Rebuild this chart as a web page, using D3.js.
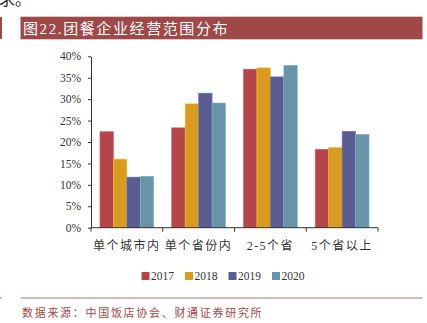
<!DOCTYPE html>
<html>
<head>
<meta charset="utf-8">
<script src="https://cdn.jsdelivr.net/npm/d3@7"></script>
<style>
  html, body { margin: 0; padding: 0; background: #fff; }
  svg { display: block; }
</style>
</head>
<body>
<script>
// Scope of operations of group-catering companies, share by year
const categories = ["单个城市内", "单个省份内", "2-5个省", "5个省以上"];
const years = ["2017", "2018", "2019", "2020"];
const v2017 = [22.4, 23.3, 37.0, 18.3];
const v2018 = [16.0, 28.9, 37.3, 18.7];
const v2019 = [11.8, 31.4, 35.2, 22.5];
const v2020 = [12.0, 29.1, 37.9, 21.8];
const yTicks = [0, 5, 10, 15, 20, 25, 30, 35, 40];
const colors = ["#B4464A", "#D99B22", "#5A5D92", "#6894A8"];
const titleText = "图22.团餐企业经营范围分布";
const sourceText = "数据来源：中国饭店协会、财通证券研究所";

const series = [v2017, v2018, v2019, v2020];
const W = 427, H = 323;
const serif = "'Liberation Serif', 'Noto Sans CJK SC', serif";
const cjk = "'Liberation Serif', 'Noto Sans CJK SC', sans-serif";

const svg = d3.select("body").append("svg").attr("width", W).attr("height", H);

// tail of the preceding paragraph
svg.append("text").attr("x", -1).attr("y", 5)
  .attr("font-family", cjk).attr("font-size", 16).attr("fill", "#222")
  .text("求。");

// title banner
svg.append("rect").attr("x", 0).attr("y", 17).attr("width", 2).attr("height", 22).attr("fill", "#9F4848");
svg.append("rect").attr("x", 20.5).attr("y", 16.7).attr("width", 402).attr("height", 22.6).attr("fill", "#9F4848");
svg.append("text").attr("x", 23).attr("y", 33.5)
  .attr("font-family", cjk).attr("font-size", 15).attr("fill", "#fff")
  .attr("letter-spacing", 1.6)
  .text(titleText);

const margin = { left: 91, right: 378, top: 56.3, bottom: 227.7 };
const x = d3.scaleBand().domain(categories).range([margin.left, margin.right])
  .paddingInner(0.25).paddingOuter(0.125);
const xi = d3.scaleBand().domain(years).range([0, x.bandwidth()]);
const y = d3.scaleLinear().domain([0, 40]).range([margin.bottom, margin.top]);

// bars
const g = svg.append("g");
categories.forEach((c, ci) => {
  years.forEach((yr, si) => {
    const v = series[si][ci];
    g.append("rect")
      .attr("x", x(c) + xi(yr))
      .attr("y", y(v))
      .attr("width", xi.bandwidth())
      .attr("height", y(0) - y(v))
      .attr("fill", colors[si])
      .attr("stroke", d3.color(colors[si]).brighter(0.6))
      .attr("stroke-width", 0.6);
  });
});

// y axis
const yAxis = svg.append("g").attr("transform", `translate(${margin.left},0)`)
  .call(d3.axisLeft(y).tickValues(yTicks).tickFormat(d => d + "%").tickSize(3).tickSizeOuter(0));
yAxis.select(".domain").attr("stroke", "#333");
yAxis.selectAll(".tick line").attr("stroke", "#333");
yAxis.selectAll(".tick text").attr("font-family", serif).attr("font-size", 11.5)
  .attr("fill", "#333").attr("x", -10);

// x axis with ticks at category boundaries
const xAxis = svg.append("g").attr("transform", `translate(0,${margin.bottom})`);
xAxis.append("line").attr("x1", margin.left).attr("x2", margin.right)
  .attr("stroke", "#333");
const bounds = [margin.left].concat(categories.map(c => x(c) + x.bandwidth() + x.step() * x.paddingInner() / 2));
bounds.forEach(b => {
  xAxis.append("line").attr("x1", b).attr("x2", b).attr("y1", 0).attr("y2", 4).attr("stroke", "#333");
});
categories.forEach(c => {
  xAxis.append("text").attr("x", x(c) + x.bandwidth() / 2).attr("y", 22)
    .attr("text-anchor", "middle").attr("font-family", cjk).attr("font-size", 12)
    .attr("letter-spacing", 1.5).attr("fill", "#333").text(c);
});

// legend
const legend = svg.append("g");
years.forEach((yr, i) => {
  const lx = 141.5 + i * 43.5;
  legend.append("rect").attr("x", lx).attr("y", 272).attr("width", 8).attr("height", 8).attr("fill", colors[i]);
  legend.append("text").attr("x", lx + 9.5).attr("y", 280)
    .attr("font-family", serif).attr("font-size", 11.5).attr("fill", "#333").text(yr);
});

// footer rule and source
svg.append("line").attr("x1", 0).attr("x2", 2).attr("y1", 298).attr("y2", 298)
  .attr("stroke", "#B57271").attr("stroke-width", 1);
svg.append("line").attr("x1", 20.7).attr("x2", 422.5).attr("y1", 298).attr("y2", 298)
  .attr("stroke", "#B57271").attr("stroke-width", 1);
svg.append("text").attr("x", 22).attr("y", 316.5)
  .attr("font-family", cjk).attr("font-size", 11).attr("fill", "#A04848")
  .attr("letter-spacing", 1.7).text(sourceText);
</script>
</body>
</html>
